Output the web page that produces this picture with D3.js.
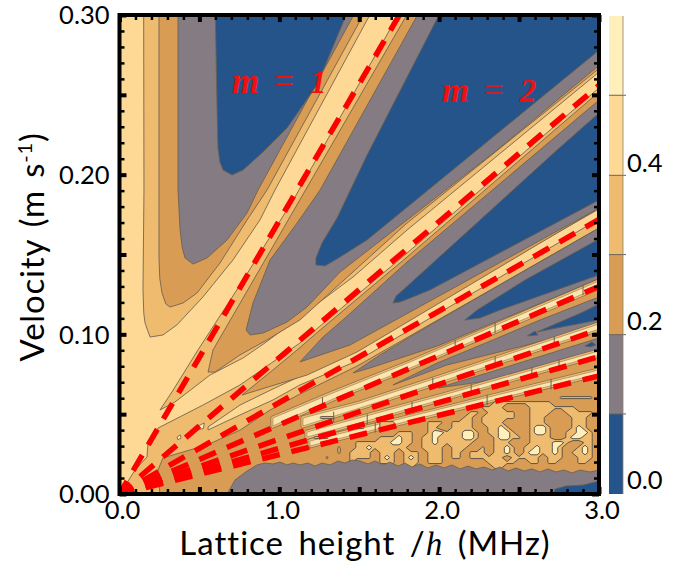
<!DOCTYPE html>
<html><head><meta charset="utf-8">
<script src="https://cdn.jsdelivr.net/npm/d3@7"></script>
<style>html,body{margin:0;padding:0;background:#fff}svg{display:block}</style>
</head><body><svg id="c" width="690" height="569"></svg>
<script>
// ---- values ----
const xTicksMajor=[0,0.5,1,1.5,2,2.5,3];
const xTicksMinor=d3.range(0,3.01,0.1);
const yTicksMajor=[0,0.05,0.1,0.15,0.2,0.25,0.3];
const yTicksMinor=d3.range(0,0.301,0.01);
const levelColors=["#25548B","#857B82","#D89C55","#EFBB6E","#FDD995","#FFF0BB"];
const levelEdges=[-0.018,0.083,0.183,0.284,0.384,0.485,0.585];
const barTicks=[0,0.2,0.4];
// velocity at lattice height 3.0 for each resonance m=1..7
const rayEnds=[0.514,0.256,0.172,0.13,0.103,0.086,0.074];

// valley left of m=1
const v0Mid=[[.151,.31],[.153,.19],[.147,.128],[.152,.113],[.16,.107],[.191,.0983],[.272,.0996],[.36,.106],[.522,.1234],[.71,.1466],[.879,.1717],[.973,.1904],[1.62,.31]];
const v0Orange=[[.247,.31],[.247,.1484],[.252,.135],[.266,.1259],[.29,.119],[.316,.1171],[.397,.1196],[.485,.1259],[.629,.1447],[.798,.1716],[.923,.1904],[1.58,.31]];
const v0Gray=[[.366,.31],[.366,.1904],[.379,.1653],[.393,.154],[.41,.1478],[.46,.144],[.547,.1478],[.673,.1591],[.798,.176],[.867,.1904],[1.52,.31]];
const v0Navy=[[.598,.31],[.61,.2436],[.616,.2167],[.628,.208],[.648,.2029],[.704,.1998],[.773,.2029],[.898,.2142],[1.048,.2292],[1.236,.2562],[1.46,.31]];
// valley m=1 .. m=2
const v1Mid=[[.253,.0526],[.328,.0639],[.491,.0902],[.754,.1309],[1.098,.186],[1.8,.31],[3.1,.31],[3.1,.2725],[1.799,.1653],[1.461,.1359],[.91,.0946],[.773,.0852],[.566,.0745],[.347,.0576]];
const v1Orange=[[.554,.0764],[.585,.0902],[1.855,.31],[3.1,.31],[3.1,.2745],[1.799,.1697],[1.129,.109],[.923,.0965],[.754,.0871],[.598,.0764]];
const v1Gray=[[1.92,.31],[3.1,.31],[3.1,.2767],[2.362,.2154],[1.38,.139],[1.173,.1171],[1.048,.1077],[.898,.1008],[.817,.0996],[.792,.1027],[.835,.1196],[.942,.1466],[1.111,.1697],[1.255,.1904]];
const v1Navy=[[2.05,.31],[3.1,.31],[3.1,.2861],[2.237,.2154],[1.549,.1591],[1.38,.1484],[1.286,.1428],[1.229,.1434],[1.229,.1478],[1.267,.1572],[1.361,.1729],[1.549,.2123]];
// lower fan
const fanMid=[[.003,0],[.097,.015],[.172,.0232],[.178,.0319],[.241,.0413],[.522,.0557],[.754,.0683],[1.129,.0946],[1.799,.1509],[3,.2543],[3,0]];
const ridge3=[[.554,.042],[.754,.0557],[.96,.0658],[1.349,.0839],[1.486,.0921],[3,.1785],[3,.1722],[1.486,.0833],[1.129,.0683],[.96,.0589],[.754,.0495],[.554,.0401]];
const v2Orange=[[.767,.062],[.96,.0777],[1.111,.0902],[1.255,.1027],[1.799,.1484],[3,.2518],[3,.1791],[1.486,.0889],[1.173,.0745]];
const v2Gray=[[1.129,.0827],[1.273,.0983],[1.411,.1102],[1.799,.1453],[3,.2467],[3,.1791],[1.442,.0933]];
const v2Navy=[[1.711,.1196],[1.73,.124],[1.774,.1278],[2.737,.2154],[3,.2386],[3,.1841],[1.943,.1278],[1.836,.1234],[1.755,.1202]];
const fanOrange=[[.253,0],[.241,.015],[.272,.0226],[.547,.0307],[.754,.04],[.942,.0526],[1.129,.0626],[1.486,.0801],[3,.1666],[3,0]];
const v3Gray=[[1.461,.0758],[1.63,.0871],[1.943,.1058],[3,.1666],[3,.1347],[2.005,.0933],[1.567,.0789]];
const v3Navy=[[2.16,.1089],[2.237,.1152],[2.537,.134],[3,.1597],[3,.1372],[2.381,.1152],[2.256,.1102]];
const v4Gray=[[1.711,.0683],[1.987,.082],[2.337,.0965],[2.631,.109],[3,.1234],[3,.1058],[2.55,.0933],[2.049,.0808]];
const v4Navy=[[2.612,.1015],[2.9,.114],[3,.119],[3,.109],[2.737,.104]];
const v4NavySpeck=[[2.55,.099],[2.6,.102],[2.618,.0996]];
const v5Gray=[[1.993,.0664],[2.362,.0777],[3,.0977],[3,.0889],[2.694,.0808],[2.256,.0701]];
const v5NavySpeck=[[2.912,.0927],[2.956,.0952],[2.98,.0933],[2.944,.0921]];
const v6Gray=[[2.712,.0664],[3,.0795],[3,.0758],[2.818,.0702]];
const ridge4=[[.96,.0476],[1.336,.0633],[1.818,.0827],[3,.1334],[3,.1296],[1.818,.0789],[1.336,.0595],[.96,.0426]];
const ridge5=[[1.148,.0476],[1.505,.057],[2.005,.0733],[3,.1065],[3,.1033],[2.005,.0701],[1.505,.0539],[1.148,.0426]];
const ridge6=[[1.173,.0388],[1.567,.0495],[2.005,.0614],[3,.0896],[3,.087],[2.005,.0589],[1.567,.0463],[1.173,.0357]];
const ridge7=[[1.192,.0332],[2.005,.0532],[3,.0777],[3,.0752],[2.005,.0507],[1.192,.0301]];
const fanSpecks=[[[.36,.0357],[.38,.037],[.385,.035],[.365,.034]],[[.49,.0425],[.53,.0445],[.525,.041],[.5,.0405]]];
const bottomGray=[[.673,0],[.723,.0088],[.798,.0144],[.86,.0182],[.91,.0194],[.96,.0188],[1.004,.02],[1.048,.0182],[1.086,.0194],[1.129,.0182],[1.179,.0194],[1.223,.0175],[1.267,.0194],[1.317,.0182],[1.367,.0207],[1.411,.0194],[1.455,.0213],[1.505,.0207],[1.555,.0188],[1.599,.0207],[1.649,.0182],[1.692,.02],[1.743,.0175],[1.786,.0194],[1.83,.0169],[1.88,.0188],[1.93,.0163],[1.98,.0182],[2.03,.0163],[2.08,.0182],[2.131,.0157],[2.18,.0175],[2.23,.0157],[2.281,.0169],[2.331,.015],[2.381,.0169],[2.431,.0144],[2.481,.0163],[2.531,.0144],[2.581,.0157],[2.631,.0138],[2.681,.0157],[2.731,.0138],[2.781,.015],[2.831,.0132],[2.881,.015],[2.944,.0138],[3,.015],[3,0]];
const bottomNavy=[[2.712,0],[2.725,.0031],[2.793,.005],[2.9,.0056],[3,.0081],[3,0]];
// comb stems on the high-m ridges: lattice height, ray index
const stems=[[1.27,3],[2.1,3],[2.35,3],[2.9,3],[1.34,4],[1.96,4],[2.35,4],[2.72,4],[1.55,5],[1.83,5],[2.2,5],[2.58,5],[2.75,5],[1.6,6],[2.3,6],[2.7,6]];

// finely structured region below m=7, read as a level grid (2 orange, 3 tan, 4 light)
const gridX0=0.754, gridDx=0.03754, gridV0=0.0682, gridDv=0.00313;
const noiseLevels=[2.8,3.55];
const Z="22222222222222222222";
const noiseRows=[
Z+Z+Z,
Z+Z+Z,
Z+Z+"22222222222223333332",
Z+Z+"22333333333322222222",
Z+Z+"33332222333333332222",
Z+"22222222222222222233"+"23333322333322333332",
"22222222222223332222"+"22222222222222222332"+"33333322333222233322",
Z+"22233322222333233332"+"33332222333222233322",
"22222222222222222233"+"32233322222332233332"+"23343222344322234322",
Z+"22222233322344333443"+"23344322344322334432",
"22222222222233322222"+"22233343323343333443"+"22344332333322344332",
"22222222222222222223"+"33333443323343333332"+"22333222333344322332",
"22222222222322223223"+"34333333223333233322"+"32334323343343223432",
"22222222222222223233"+"33233323332333233233"+"32334323443343233432",
"22222222222222322233"+"33234323432333233233"+"33332333332333223332",
"22222222222222222232"+"22233323332333222222"+"23333322332332223322",
Z+"22222223322222222222"+"22332222222222222222",
Z+Z+Z];

// ---- drawing ----
const svg=d3.select("#c");
const x=d3.scaleLinear().domain([0,3]).range([119.5,599]);
const y=d3.scaleLinear().domain([0,0.3]).range([494,15]);
const cb=d3.scaleLinear().domain([-0.018,0.585]).range([494,16]);
const FONT="Lato, 'Open Sans', sans-serif";
svg.append("defs").append("clipPath").attr("id","plot").append("rect")
  .attr("x",x(0)).attr("y",y(0.3)).attr("width",x(3)-x(0)).attr("height",y(0)-y(0.3));
const g=svg.append("g").attr("clip-path","url(#plot)");
const [navy,gray,orange,mid,light,pale]=levelColors;
const edge="#6b6050";
const straight=d3.line().x(d=>x(d[0])).y(d=>y(d[1])).curve(d3.curveLinearClosed);
function fillPoly(pts,col,halo){
  if(halo) g.append("path").attr("d",straight(pts)).attr("fill","none").attr("stroke",edge).attr("stroke-width",5).attr("stroke-opacity",.7).attr("stroke-linejoin","round");
  if(halo) g.append("path").attr("d",straight(pts)).attr("fill","none").attr("stroke",mid).attr("stroke-width",3.4).attr("stroke-linejoin","round");
  g.append("path").attr("d",straight(pts)).attr("fill",col).attr("stroke",edge).attr("stroke-width",1).attr("stroke-opacity",halo?.45:.85).attr("stroke-linejoin","round");
}
g.append("rect").attr("x",x(0)).attr("y",y(.3)).attr("width",x(3)-x(0)).attr("height",y(0)-y(.3)).attr("fill",light);
[[v0Mid,mid],[v0Orange,orange],[v0Gray,gray],[v0Navy,navy],[v1Mid,mid],[v1Orange,orange],[v1Gray,gray],[v1Navy,navy]].forEach(([p,c])=>fillPoly(p,c));
fillPoly(fanMid,mid);
fillPoly(ridge3,light);
[[v2Orange,orange],[v2Gray,gray],[v2Navy,navy],[fanOrange,orange],[v3Gray,gray],[v3Navy,navy],[v4Gray,gray],[v4Navy,navy],[v4NavySpeck,navy],[v5Gray,gray],[v5NavySpeck,navy],[v6Gray,gray]].forEach(([p,c])=>fillPoly(p,c));
fanSpecks.forEach(p=>fillPoly(p,pale));
[ridge4,ridge5,ridge6,ridge7].forEach(p=>fillPoly(p,"#FDE6AE",true));
// stems across the ridges
g.selectAll("line.stem").data(stems).join("line").attr("class","stem")
  .attr("x1",d=>x(d[0])).attr("x2",d=>x(d[0]))
  .attr("y1",d=>y(rayEnds[d[1]]/3*d[0]-.001)).attr("y2",d=>y(rayEnds[d[1]]/3*d[0]+.0055))
  .attr("stroke",edge).attr("stroke-width",1);
// fine structure
const values=noiseRows.flatMap(r=>Array.from(r,Number));
const cont=d3.contours().size([noiseRows[0].length,noiseRows.length]).thresholds(noiseLevels)(values);
const proj=d3.geoPath(d3.geoTransform({point(a,b){this.stream.point(x(gridX0+a*gridDx),y(gridV0-b*gridDv));}}));
g.selectAll("path.noise").data(cont).join("path").attr("class","noise").attr("d",proj)
  .attr("fill",(d,i)=>i?pale:mid).attr("stroke","#5f5546").attr("stroke-width",1);
fillPoly(bottomGray,gray);
fillPoly(bottomNavy,navy);
// resonance rays
g.selectAll("line.ray").data(rayEnds).join("line").attr("class","ray")
  .attr("x1",x(0)).attr("y1",y(0)).attr("x2",x(3)).attr("y2",d=>y(d))
  .attr("stroke","#ff0000").attr("stroke-width",5.5).attr("stroke-dasharray","18 12").attr("stroke-dashoffset",3);

// labels on plot
function mLabel(xv,vv,n){
  const t=svg.append("text").attr("x",x(xv)).attr("y",y(vv)).attr("fill","#f01010").attr("font-size",35).attr("font-family","'Liberation Serif',serif");
  t.append("tspan").attr("font-style","italic").attr("font-weight","bold").text("m");
  t.append("tspan").attr("dx",15).attr("font-weight","normal").text("=");
  t.append("tspan").attr("dx",16).attr("font-weight","bold").attr("font-style","italic").attr("font-size",33).text(n);
}
mLabel(0.704,0.2511,"1");
mLabel(2.017,0.2455,"2");

// axes
const fmtX=d=>Number.isInteger(d)?d.toFixed(1):"";
const fmtY=d=>Math.round(d*100)%10===0?d.toFixed(2):"";
function ax(axisFn,scale,transform,ticks,len,w,fmt,pad){
  const a=axisFn(scale).tickValues(ticks).tickSizeOuter(0).tickSize(-len).tickFormat(fmt||"").tickPadding(pad||0);
  const s=svg.append("g").attr("transform",transform).call(a);
  s.select(".domain").remove();
  s.selectAll("line").attr("stroke","#000").attr("stroke-width",w);
  s.selectAll("text").attr("fill","#000").attr("font-family",FONT).attr("font-size",25.5);
  return s;
}
const bx=`translate(0,${y(0)})`,tx=`translate(0,${y(.3)})`,lx=`translate(${x(0)},0)`,rx=`translate(${x(3)},0)`;
ax(d3.axisBottom,x,bx,xTicksMinor,5,2.5);ax(d3.axisTop,x,tx,xTicksMinor,5,2.5);
ax(d3.axisLeft,y,lx,yTicksMinor,5,2.5);ax(d3.axisRight,y,rx,yTicksMinor,5,2.5);
ax(d3.axisTop,x,tx,xTicksMajor,7,4);ax(d3.axisRight,y,rx,yTicksMajor,7,4);
const xl=ax(d3.axisBottom,x,bx,xTicksMajor,7,4,fmtX,7);
xl.selectAll("text").attr("dx",2.5);
ax(d3.axisLeft,y,lx,yTicksMajor,7,4,fmtY,10).selectAll("text").attr("dy","0.34em");
svg.append("rect").attr("x",x(0)).attr("y",y(.3)).attr("width",x(3)-x(0)).attr("height",y(0)-y(.3))
  .attr("fill","none").attr("stroke","#000").attr("stroke-width",4);

// axis titles
const xt=svg.append("text").attr("x",365).attr("y",555).attr("text-anchor","middle").attr("font-family",FONT).attr("font-size",33).attr("letter-spacing",1).attr("word-spacing",5);
xt.append("tspan").text("Lattice height /");
xt.append("tspan").attr("font-family","'Liberation Serif',serif").attr("font-style","italic").text("h");
xt.append("tspan").text(" (MHz)");
const yt=svg.append("text").attr("transform","translate(44,247) rotate(-90)").attr("text-anchor","middle").attr("font-family",FONT).attr("font-size",33).attr("letter-spacing",.8).attr("word-spacing",3);
yt.append("tspan").text("Velocity (m s");
yt.append("tspan").attr("font-size",20).attr("dy",-12).text("-1");
yt.append("tspan").attr("dy",12).text(")");

// colour bar
const bar=svg.append("g");
bar.selectAll("rect").data(levelColors).join("rect")
  .attr("x",609).attr("width",14).attr("y",(d,i)=>cb(levelEdges[i+1])).attr("height",(d,i)=>cb(levelEdges[i])-cb(levelEdges[i+1])).attr("fill",d=>d);
bar.selectAll("line.t").data(levelEdges.slice(1,-1)).join("line").attr("class","t")
  .attr("x1",609).attr("x2",626).attr("y1",d=>cb(d)).attr("y2",d=>cb(d)).attr("stroke","#6b6254").attr("stroke-width",1);
bar.append("line").attr("x1",623).attr("x2",623).attr("y1",16).attr("y2",494).attr("stroke","#8a8270").attr("stroke-width",.8);
bar.selectAll("text").data(barTicks).join("text").attr("x",627).attr("y",d=>cb(d)).attr("dy","0.36em")
  .attr("font-family",FONT).attr("font-size",25.5).attr("fill","#000").text(d=>d.toFixed(1));
</script></body></html>
